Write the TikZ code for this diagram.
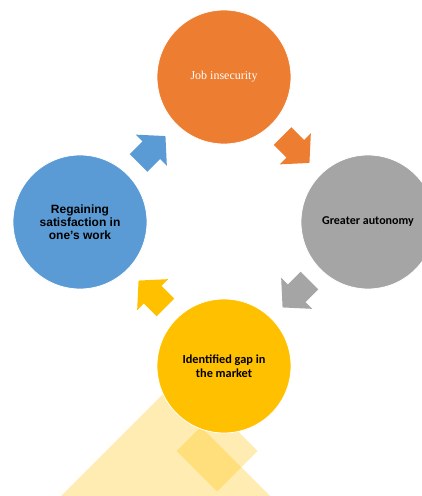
\documentclass[tikz,border=0pt]{standalone}
\usepackage{fontspec}
\usetikzlibrary{calc}
\setmainfont{Liberation Serif}
\newfontfamily\arialf{Liberation Sans}
\newfontfamily\calib{Carlito}
\definecolor{cOrange}{HTML}{ED7D31}
\definecolor{cGray}{HTML}{A5A5A5}
\definecolor{cYellow}{HTML}{FFC000}
\definecolor{cBlue}{HTML}{5B9BD5}
\tikzset{
  bubble/.style={circle, minimum size=134pt, inner sep=0pt, draw=white, line width=0.8pt, align=center},
  blockarrow/.pic={\fill[pic actions] (-19,-12.5) -- (-1,-12.5) -- (-1,-22) -- (19,0) -- (-1,22) -- (-1,12.5) -- (-19,12.5) -- cycle;},
  ghost/.style={fill=cYellow, fill opacity=0.3}
}
\begin{document}
\begin{tikzpicture}[x=1pt,y=1pt]
\useasboundingbox (0,0) rectangle (422,496);
\clip (0,0) rectangle (422,496);
% background diamonds
\fill[ghost] (165.5,104.5) -- (365.5,-95.5) -- (165.5,-295.5) -- (-34.5,-95.5) -- cycle;
\fill[ghost] (217,85.5) -- (257.5,45) -- (217,4.5) -- (176.5,45) -- cycle;
% circles
\node[bubble, fill=cOrange, text=white, font=\fontsize{12}{14}\selectfont] (job) at (224,419) {Job insecurity};
\node[bubble, fill=cGray, font=\calib\bfseries\fontsize{12}{14}\selectfont] (aut) at (368,274) {Greater autonomy};
\node[bubble, fill=cYellow, font=\calib\bfseries\fontsize{12.3}{14}\selectfont] (gap) at (224,130) {Identified gap in\\the market};
\node[bubble, fill=cBlue, font=\arialf\bfseries\fontsize{12}{12.8}\selectfont] (reg) at (80,274) {Regaining\\satisfaction in\\one’s work};
% arrows
\path ($(reg)!0.5!(job)$) coordinate (a1) ($(job)!0.5!(aut)$) coordinate (a2)
      ($(aut)!0.5!(gap)$) coordinate (a3) ($(gap)!0.5!(reg)$) coordinate (a4);
\pic[fill=cBlue, rotate=45] at (a1) {blockarrow};
\pic[fill=cOrange, rotate=-45] at (a2) {blockarrow};
\pic[fill=cGray, rotate=-135] at (a3) {blockarrow};
\pic[fill=cYellow, rotate=135] at (a4) {blockarrow};
\end{tikzpicture}
\end{document}
